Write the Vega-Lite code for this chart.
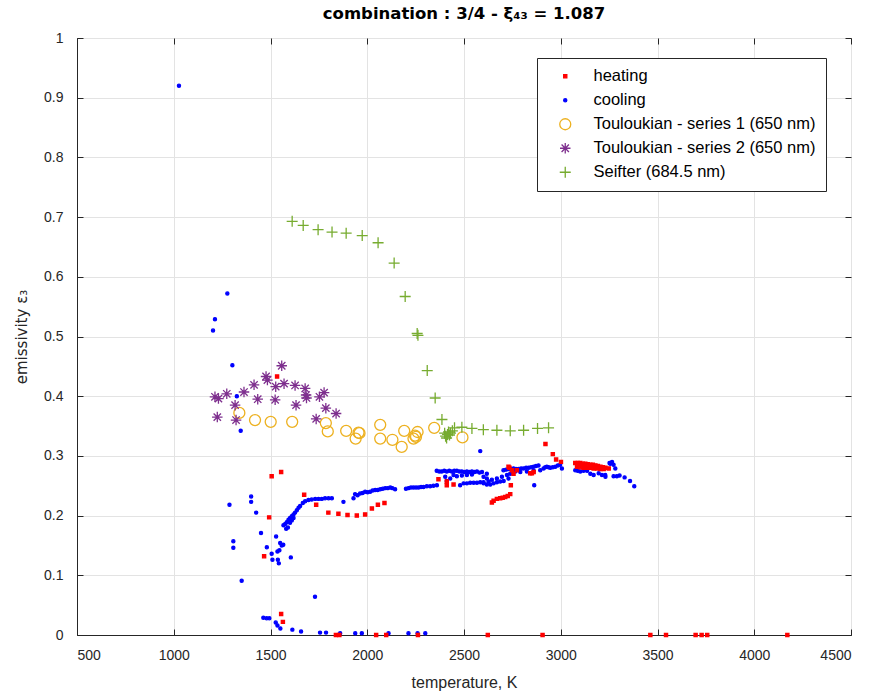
{
"$schema": "https://vega.github.io/schema/vega-lite/v6.json",
"width": 774, "height": 597,
"autosize": {"type": "none"},
"padding": {"left": 77, "top": 38, "right": 23, "bottom": 61},
"background": "white",
"title": {"text": "combination : 3/4 - ξ₄₃ = 1.087", "fontSize": 16.5, "fontWeight": "bold", "font": "DejaVu Sans", "color": "#000000", "anchor": "middle", "frame": "group", "offset": 9},
"data": {"values": [
{"t":1027,"e":0.92,"s":"c"},{"t":1203,"e":0.51,"s":"c"},{"t":1213,"e":0.529,"s":"c"},{"t":1277,"e":0.572,"s":"c"},{"t":1303,"e":0.452,"s":"c"},{"t":1326,"e":0.4,"s":"c"},{"t":1346,"e":0.342,"s":"c"},{"t":1288,"e":0.218,"s":"c"},{"t":1308,"e":0.157,"s":"c"},{"t":1308,"e":0.146,"s":"c"},{"t":1351,"e":0.091,"s":"c"},{"t":1400,"e":0.232,"s":"c"},{"t":1400,"e":0.223,"s":"c"},{"t":1426,"e":0.205,"s":"c"},{"t":1451,"e":0.171,"s":"c"},{"t":1481,"e":0.147,"s":"c"},{"t":1506,"e":0.136,"s":"c"},{"t":1510,"e":0.126,"s":"c"},{"t":1529,"e":0.165,"s":"c"},{"t":1538,"e":0.126,"s":"c"},{"t":1543,"e":0.12,"s":"c"},{"t":1550,"e":0.154,"s":"c"},{"t":1558,"e":0.15,"s":"c"},{"t":1566,"e":0.151,"s":"c"},{"t":1546,"e":0.142,"s":"c"},{"t":1536,"e":0.14,"s":"c"},{"t":1605,"e":0.13,"s":"c"},{"t":1567,"e":0.184,"s":"c"},{"t":1576,"e":0.186,"s":"c"},{"t":1584,"e":0.189,"s":"c"},{"t":1593,"e":0.193,"s":"c"},{"t":1601,"e":0.196,"s":"c"},{"t":1610,"e":0.199,"s":"c"},{"t":1619,"e":0.202,"s":"c"},{"t":1627,"e":0.205,"s":"c"},{"t":1636,"e":0.209,"s":"c"},{"t":1645,"e":0.213,"s":"c"},{"t":1653,"e":0.216,"s":"c"},{"t":1667,"e":0.221,"s":"c"},{"t":1679,"e":0.224,"s":"c"},{"t":1696,"e":0.226,"s":"c"},{"t":1713,"e":0.227,"s":"c"},{"t":1731,"e":0.228,"s":"c"},{"t":1748,"e":0.228,"s":"c"},{"t":1765,"e":0.228,"s":"c"},{"t":1782,"e":0.229,"s":"c"},{"t":1800,"e":0.229,"s":"c"},{"t":1817,"e":0.229,"s":"c"},{"t":1581,"e":0.178,"s":"c"},{"t":1601,"e":0.188,"s":"c"},{"t":1619,"e":0.196,"s":"c"},{"t":1590,"e":0.18,"s":"c"},{"t":1610,"e":0.192,"s":"c"},{"t":1877,"e":0.223,"s":"c"},{"t":1730,"e":0.064,"s":"c"},{"t":1463,"e":0.029,"s":"c"},{"t":1480,"e":0.028,"s":"c"},{"t":1494,"e":0.028,"s":"c"},{"t":1527,"e":0.021,"s":"c"},{"t":1536,"e":0.016,"s":"c"},{"t":1551,"e":0.011,"s":"c"},{"t":1613,"e":0.009,"s":"c"},{"t":1658,"e":0.006,"s":"c"},{"t":1756,"e":0.004,"s":"c"},{"t":1787,"e":0.004,"s":"c"},{"t":1860,"e":0.003,"s":"c"},{"t":1938,"e":0.003,"s":"c"},{"t":1972,"e":0.003,"s":"c"},{"t":2110,"e":0.003,"s":"c"},{"t":2213,"e":0.003,"s":"c"},{"t":2260,"e":0.003,"s":"c"},{"t":2300,"e":0.003,"s":"c"},{"t":1929,"e":0.229,"s":"c"},{"t":1937,"e":0.236,"s":"c"},{"t":1950,"e":0.234,"s":"c"},{"t":1963,"e":0.237,"s":"c"},{"t":1976,"e":0.238,"s":"c"},{"t":1989,"e":0.24,"s":"c"},{"t":2002,"e":0.239,"s":"c"},{"t":2015,"e":0.24,"s":"c"},{"t":2028,"e":0.242,"s":"c"},{"t":2041,"e":0.243,"s":"c"},{"t":2054,"e":0.243,"s":"c"},{"t":2067,"e":0.244,"s":"c"},{"t":2080,"e":0.245,"s":"c"},{"t":2093,"e":0.246,"s":"c"},{"t":2106,"e":0.246,"s":"c"},{"t":2119,"e":0.247,"s":"c"},{"t":2130,"e":0.246,"s":"c"},{"t":2144,"e":0.244,"s":"c"},{"t":2200,"e":0.245,"s":"c"},{"t":2213,"e":0.246,"s":"c"},{"t":2226,"e":0.247,"s":"c"},{"t":2239,"e":0.247,"s":"c"},{"t":2252,"e":0.247,"s":"c"},{"t":2265,"e":0.247,"s":"c"},{"t":2278,"e":0.248,"s":"c"},{"t":2291,"e":0.248,"s":"c"},{"t":2308,"e":0.249,"s":"c"},{"t":2325,"e":0.249,"s":"c"},{"t":2342,"e":0.25,"s":"c"},{"t":2360,"e":0.251,"s":"c"},{"t":2359,"e":0.275,"s":"c"},{"t":2372,"e":0.274,"s":"c"},{"t":2385,"e":0.274,"s":"c"},{"t":2398,"e":0.275,"s":"c"},{"t":2411,"e":0.274,"s":"c"},{"t":2424,"e":0.275,"s":"c"},{"t":2437,"e":0.274,"s":"c"},{"t":2450,"e":0.275,"s":"c"},{"t":2463,"e":0.275,"s":"c"},{"t":2476,"e":0.274,"s":"c"},{"t":2489,"e":0.274,"s":"c"},{"t":2502,"e":0.273,"s":"c"},{"t":2515,"e":0.274,"s":"c"},{"t":2528,"e":0.273,"s":"c"},{"t":2541,"e":0.274,"s":"c"},{"t":2554,"e":0.273,"s":"c"},{"t":2567,"e":0.274,"s":"c"},{"t":2580,"e":0.272,"s":"c"},{"t":2593,"e":0.273,"s":"c"},{"t":2618,"e":0.27,"s":"c"},{"t":2403,"e":0.265,"s":"c"},{"t":2429,"e":0.262,"s":"c"},{"t":2446,"e":0.268,"s":"c"},{"t":2463,"e":0.266,"s":"c"},{"t":2489,"e":0.267,"s":"c"},{"t":2515,"e":0.268,"s":"c"},{"t":2541,"e":0.269,"s":"c"},{"t":2411,"e":0.258,"s":"c"},{"t":2480,"e":0.251,"s":"c"},{"t":2498,"e":0.254,"s":"c"},{"t":2515,"e":0.254,"s":"c"},{"t":2532,"e":0.255,"s":"c"},{"t":2550,"e":0.255,"s":"c"},{"t":2567,"e":0.255,"s":"c"},{"t":2584,"e":0.256,"s":"c"},{"t":2601,"e":0.256,"s":"c"},{"t":2627,"e":0.257,"s":"c"},{"t":2584,"e":0.308,"s":"c"},{"t":2601,"e":0.265,"s":"c"},{"t":2618,"e":0.262,"s":"c"},{"t":2644,"e":0.26,"s":"c"},{"t":2670,"e":0.262,"s":"c"},{"t":2696,"e":0.265,"s":"c"},{"t":2722,"e":0.268,"s":"c"},{"t":2739,"e":0.27,"s":"c"},{"t":2601,"e":0.254,"s":"c"},{"t":2618,"e":0.252,"s":"c"},{"t":2636,"e":0.252,"s":"c"},{"t":2653,"e":0.254,"s":"c"},{"t":2670,"e":0.256,"s":"c"},{"t":2687,"e":0.257,"s":"c"},{"t":2705,"e":0.258,"s":"c"},{"t":2730,"e":0.262,"s":"c"},{"t":2704,"e":0.276,"s":"c"},{"t":2717,"e":0.277,"s":"c"},{"t":2730,"e":0.278,"s":"c"},{"t":2743,"e":0.278,"s":"c"},{"t":2756,"e":0.279,"s":"c"},{"t":2769,"e":0.278,"s":"c"},{"t":2782,"e":0.278,"s":"c"},{"t":2795,"e":0.279,"s":"c"},{"t":2808,"e":0.279,"s":"c"},{"t":2821,"e":0.28,"s":"c"},{"t":2834,"e":0.28,"s":"c"},{"t":2847,"e":0.281,"s":"c"},{"t":2860,"e":0.282,"s":"c"},{"t":2872,"e":0.283,"s":"c"},{"t":2885,"e":0.284,"s":"c"},{"t":2894,"e":0.276,"s":"c"},{"t":2765,"e":0.274,"s":"c"},{"t":2791,"e":0.273,"s":"c"},{"t":2825,"e":0.274,"s":"c"},{"t":2860,"e":0.275,"s":"c"},{"t":2863,"e":0.251,"s":"c"},{"t":2911,"e":0.279,"s":"c"},{"t":2920,"e":0.281,"s":"c"},{"t":2928,"e":0.282,"s":"c"},{"t":2937,"e":0.281,"s":"c"},{"t":2946,"e":0.28,"s":"c"},{"t":2959,"e":0.281,"s":"c"},{"t":2972,"e":0.282,"s":"c"},{"t":2985,"e":0.284,"s":"c"},{"t":2997,"e":0.285,"s":"c"},{"t":3006,"e":0.279,"s":"c"},{"t":3075,"e":0.276,"s":"c"},{"t":3088,"e":0.275,"s":"c"},{"t":3101,"e":0.274,"s":"c"},{"t":3118,"e":0.275,"s":"c"},{"t":3136,"e":0.275,"s":"c"},{"t":3153,"e":0.27,"s":"c"},{"t":3170,"e":0.268,"s":"c"},{"t":3196,"e":0.271,"s":"c"},{"t":3213,"e":0.268,"s":"c"},{"t":3231,"e":0.265,"s":"c"},{"t":3252,"e":0.288,"s":"c"},{"t":3256,"e":0.287,"s":"c"},{"t":3265,"e":0.29,"s":"c"},{"t":3273,"e":0.285,"s":"c"},{"t":3282,"e":0.279,"s":"c"},{"t":3230,"e":0.268,"s":"c"},{"t":3273,"e":0.266,"s":"c"},{"t":3290,"e":0.266,"s":"c"},{"t":3304,"e":0.267,"s":"c"},{"t":3330,"e":0.264,"s":"c"},{"t":3358,"e":0.258,"s":"c"},{"t":3380,"e":0.249,"s":"c"},
{"t":1506,"e":0.266,"s":"h"},{"t":1555,"e":0.273,"s":"h"},{"t":1534,"e":0.433,"s":"h"},{"t":1493,"e":0.197,"s":"h"},{"t":1467,"e":0.132,"s":"h"},{"t":1555,"e":0.035,"s":"h"},{"t":1564,"e":0.022,"s":"h"},{"t":1674,"e":0.235,"s":"h"},{"t":1736,"e":0.218,"s":"h"},{"t":1799,"e":0.205,"s":"h"},{"t":1851,"e":0.203,"s":"h"},{"t":1898,"e":0.201,"s":"h"},{"t":1946,"e":0.2,"s":"h"},{"t":1989,"e":0.202,"s":"h"},{"t":2024,"e":0.212,"s":"h"},{"t":2055,"e":0.218,"s":"h"},{"t":2089,"e":0.221,"s":"h"},{"t":2368,"e":0.261,"s":"h"},{"t":2411,"e":0.251,"s":"h"},{"t":2446,"e":0.252,"s":"h"},{"t":2411,"e":0.257,"s":"h"},{"t":1838,"e":0,"s":"h"},{"t":1856,"e":0,"s":"h"},{"t":2046,"e":0,"s":"h"},{"t":2098,"e":0,"s":"h"},{"t":2262,"e":0,"s":"h"},{"t":2623,"e":0,"s":"h"},{"t":2906,"e":0,"s":"h"},{"t":3463,"e":0,"s":"h"},{"t":3544,"e":0,"s":"h"},{"t":3697,"e":0,"s":"h"},{"t":3728,"e":0,"s":"h"},{"t":3757,"e":0,"s":"h"},{"t":4171,"e":0,"s":"h"},{"t":2644,"e":0.222,"s":"h"},{"t":2653,"e":0.225,"s":"h"},{"t":2670,"e":0.228,"s":"h"},{"t":2687,"e":0.229,"s":"h"},{"t":2700,"e":0.23,"s":"h"},{"t":2713,"e":0.231,"s":"h"},{"t":2726,"e":0.233,"s":"h"},{"t":2739,"e":0.236,"s":"h"},{"t":2742,"e":0.251,"s":"h"},{"t":2730,"e":0.282,"s":"h"},{"t":2735,"e":0.28,"s":"h"},{"t":2747,"e":0.276,"s":"h"},{"t":2756,"e":0.27,"s":"h"},{"t":2773,"e":0.276,"s":"h"},{"t":2842,"e":0.271,"s":"h"},{"t":2851,"e":0.271,"s":"h"},{"t":2860,"e":0.273,"s":"h"},{"t":2921,"e":0.32,"s":"h"},{"t":2959,"e":0.303,"s":"h"},{"t":2976,"e":0.294,"s":"h"},{"t":3001,"e":0.29,"s":"h"},{"t":3075,"e":0.288,"s":"h"},{"t":3088,"e":0.288,"s":"h"},{"t":3101,"e":0.288,"s":"h"},{"t":3114,"e":0.287,"s":"h"},{"t":3127,"e":0.287,"s":"h"},{"t":3140,"e":0.286,"s":"h"},{"t":3153,"e":0.285,"s":"h"},{"t":3166,"e":0.285,"s":"h"},{"t":3179,"e":0.284,"s":"h"},{"t":3192,"e":0.283,"s":"h"},{"t":3205,"e":0.282,"s":"h"},{"t":3218,"e":0.281,"s":"h"},{"t":3231,"e":0.28,"s":"h"},{"t":3084,"e":0.282,"s":"h"},{"t":3101,"e":0.281,"s":"h"},{"t":3118,"e":0.28,"s":"h"},{"t":3135,"e":0.28,"s":"h"},{"t":3153,"e":0.28,"s":"h"},{"t":3170,"e":0.279,"s":"h"},{"t":3188,"e":0.279,"s":"h"},{"t":3205,"e":0.278,"s":"h"},{"t":3222,"e":0.278,"s":"h"},{"t":3248,"e":0.279,"s":"h"},
{"t":1339,"e":0.372,"s":"t1"},{"t":1420,"e":0.36,"s":"t1"},{"t":1501,"e":0.357,"s":"t1"},{"t":1612,"e":0.357,"s":"t1"},{"t":1786,"e":0.355,"s":"t1"},{"t":1796,"e":0.341,"s":"t1"},{"t":1891,"e":0.342,"s":"t1"},{"t":1940,"e":0.329,"s":"t1"},{"t":1955,"e":0.339,"s":"t1"},{"t":1960,"e":0.338,"s":"t1"},{"t":2067,"e":0.352,"s":"t1"},{"t":2067,"e":0.329,"s":"t1"},{"t":2130,"e":0.327,"s":"t1"},{"t":2178,"e":0.315,"s":"t1"},{"t":2191,"e":0.342,"s":"t1"},{"t":2239,"e":0.329,"s":"t1"},{"t":2247,"e":0.334,"s":"t1"},{"t":2260,"e":0.34,"s":"t1"},{"t":2252,"e":0.332,"s":"t1"},{"t":2346,"e":0.347,"s":"t1"},{"t":2492,"e":0.331,"s":"t1"},
{"t":1213,"e":0.399,"s":"t2"},{"t":1231,"e":0.396,"s":"t2"},{"t":1274,"e":0.404,"s":"t2"},{"t":1225,"e":0.365,"s":"t2"},{"t":1317,"e":0.385,"s":"t2"},{"t":1322,"e":0.36,"s":"t2"},{"t":1363,"e":0.407,"s":"t2"},{"t":1415,"e":0.419,"s":"t2"},{"t":1434,"e":0.395,"s":"t2"},{"t":1477,"e":0.433,"s":"t2"},{"t":1484,"e":0.427,"s":"t2"},{"t":1527,"e":0.416,"s":"t2"},{"t":1524,"e":0.394,"s":"t2"},{"t":1558,"e":0.451,"s":"t2"},{"t":1570,"e":0.421,"s":"t2"},{"t":1627,"e":0.418,"s":"t2"},{"t":1632,"e":0.385,"s":"t2"},{"t":1679,"e":0.413,"s":"t2"},{"t":1684,"e":0.402,"s":"t2"},{"t":1686,"e":0.397,"s":"t2"},{"t":1736,"e":0.362,"s":"t2"},{"t":1753,"e":0.399,"s":"t2"},{"t":1777,"e":0.406,"s":"t2"},{"t":1786,"e":0.38,"s":"t2"},{"t":1839,"e":0.371,"s":"t2"},
{"t":1612,"e":0.693,"s":"sf"},{"t":1669,"e":0.686,"s":"sf"},{"t":1746,"e":0.679,"s":"sf"},{"t":1818,"e":0.675,"s":"sf"},{"t":1891,"e":0.673,"s":"sf"},{"t":1974,"e":0.669,"s":"sf"},{"t":2056,"e":0.657,"s":"sf"},{"t":2139,"e":0.623,"s":"sf"},{"t":2196,"e":0.567,"s":"sf"},{"t":2258,"e":0.505,"s":"sf"},{"t":2262,"e":0.502,"s":"sf"},{"t":2310,"e":0.443,"s":"sf"},{"t":2351,"e":0.397,"s":"sf"},{"t":2386,"e":0.361,"s":"sf"},{"t":2400,"e":0.338,"s":"sf"},{"t":2405,"e":0.333,"s":"sf"},{"t":2410,"e":0.33,"s":"sf"},{"t":2415,"e":0.336,"s":"sf"},{"t":2420,"e":0.34,"s":"sf"},{"t":2425,"e":0.335,"s":"sf"},{"t":2430,"e":0.338,"s":"sf"},{"t":2440,"e":0.342,"s":"sf"},{"t":2451,"e":0.347,"s":"sf"},{"t":2489,"e":0.348,"s":"sf"},{"t":2541,"e":0.346,"s":"sf"},{"t":2600,"e":0.344,"s":"sf"},{"t":2670,"e":0.343,"s":"sf"},{"t":2739,"e":0.342,"s":"sf"},{"t":2808,"e":0.343,"s":"sf"},{"t":2880,"e":0.346,"s":"sf"},{"t":2937,"e":0.347,"s":"sf"}
]},
"layer": [
{
"mark": {"type": "point", "strokeWidth": 1.3, "opacity": 1},
"encoding": {
  "x": {"field": "t", "type": "quantitative", "scale": {"domain": [500, 4500], "nice": false, "zero": false},
        "axis": {"title": "temperature, K", "values": [500,1000,1500,2000,2500,3000,3500,4000,4500], "format": "d"}},
  "y": {"field": "e", "type": "quantitative", "scale": {"domain": [0, 1], "nice": false},
        "axis": {"title": "emissivity ε₃", "titleFont": "DejaVu Sans", "titleFontSize": 15, "values": [0,0.1,0.2,0.3,0.4,0.5,0.6,0.7,0.8,0.9,1], "format": "~g"}},
  "shape": {"field": "s", "type": "nominal",
        "scale": {"domain": ["h","c","t1","t2","sf"], "range": ["square","circle","circle","M-1,0L1,0M0,-1L0,1M-0.7,-0.7L0.7,0.7M-0.7,0.7L0.7,-0.7","M-1,0L1,0M0,-1L0,1"]},
        "legend": {"labelExpr": "{'h':'heating','c':'cooling','t1':'Touloukian - series 1 (650 nm)','t2':'Touloukian - series 2 (650 nm)','sf':'Seifter (684.5 nm)'}[datum.label]"}},
  "stroke": {"field": "s", "type": "nominal",
        "scale": {"domain": ["h","c","t1","t2","sf"], "range": ["#ff0000","#0000ff","#EDB120","#7E2F8E","#77AC30"]},
        "legend": {"labelExpr": "{'h':'heating','c':'cooling','t1':'Touloukian - series 1 (650 nm)','t2':'Touloukian - series 2 (650 nm)','sf':'Seifter (684.5 nm)'}[datum.label]"}},
  "fill": {"field": "s", "type": "nominal",
        "scale": {"domain": ["h","c","t1","t2","sf"], "range": ["#ff0000","#0000ff","transparent","transparent","transparent"]},
        "legend": {"labelExpr": "{'h':'heating','c':'cooling','t1':'Touloukian - series 1 (650 nm)','t2':'Touloukian - series 2 (650 nm)','sf':'Seifter (684.5 nm)'}[datum.label]"}},
  "size": {"field": "s", "type": "nominal",
        "scale": {"type": "ordinal", "domain": ["h","c","t1","t2","sf"], "range": [10, 10, 121, 110, 121]},
        "legend": {"labelExpr": "{'h':'heating','c':'cooling','t1':'Touloukian - series 1 (650 nm)','t2':'Touloukian - series 2 (650 nm)','sf':'Seifter (684.5 nm)'}[datum.label]"}}
}
},
{
"mark": {"type": "point", "opacity": 0},
"encoding": {
  "x": {"field": "t", "type": "quantitative", "scale": {"domain": [500, 4500], "nice": false, "zero": false},
        "axis": {"orient": "top", "title": null, "labels": false, "grid": false, "domain": false, "values": [500,1000,1500,2000,2500,3000,3500,4000,4500]}},
  "y": {"field": "e", "type": "quantitative", "scale": {"domain": [0, 1], "nice": false},
        "axis": {"orient": "right", "title": null, "labels": false, "grid": false, "domain": false, "values": [0,0.1,0.2,0.3,0.4,0.5,0.6,0.7,0.8,0.9,1]}}
}
}
],
"resolve": {"axis": {"x": "independent", "y": "independent"}},
"config": {
  "view": {"stroke": "#262626", "strokeWidth": 1},
  "axis": {"labelFont": "Liberation Sans", "labelFontSize": 14, "labelColor": "#262626", "titleFont": "Liberation Sans", "titleFontSize": 16, "titleFontWeight": "normal", "titleColor": "#262626", "domainColor": "#262626", "tickColor": "#262626", "tickSize": -6, "gridColor": "#e3e3e3", "grid": true},
  "axisY": {"labelPadding": 20, "titlePadding": 14},
  "axisX": {"labelPadding": 19, "titlePadding": 12},
  "legend": {"title": null, "orient": "none", "legendX": 460, "legendY": 20, "padding": 10, "fillColor": "white", "strokeColor": "#262626", "labelFontSize": 16.5, "labelFont": "Liberation Sans", "labelColor": "#000000", "labelLimit": 0, "rowPadding": 7, "symbolOffset": 10, "labelOffset": 20, "symbolStrokeWidth": 1.3}
}
}
